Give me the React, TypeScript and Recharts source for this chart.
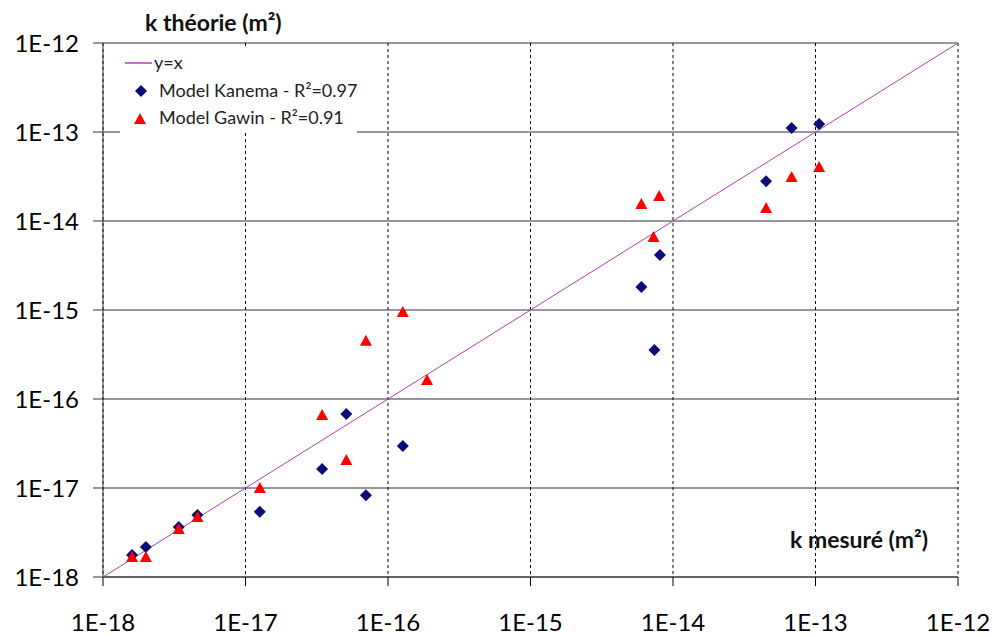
import { CartesianGrid, Scatter, ScatterChart, XAxis, YAxis } from "recharts"

// k measured (x) and k theory (y), m²
const kanemaMeasured = [1.6e-18, 2.0e-18, 3.4e-18, 4.6e-18, 1.26e-17, 3.45e-17, 5.1e-17, 7.0e-17, 1.27e-16, 6.0e-15, 7.4e-15, 8.1e-15, 4.5e-14, 6.8e-14, 1.06e-13]
const kanemaTheory = [1.77e-18, 2.17e-18, 3.65e-18, 4.98e-18, 5.4e-18, 1.63e-17, 6.8e-17, 8.3e-18, 2.96e-17, 1.81e-15, 3.56e-16, 4.15e-15, 2.8e-14, 1.11e-13, 1.23e-13]

const gawinMeasured = [1.6e-18, 2.0e-18, 3.4e-18, 4.6e-18, 1.26e-17, 3.45e-17, 5.1e-17, 7.0e-17, 1.27e-16, 1.88e-16, 6.0e-15, 7.3e-15, 8.0e-15, 4.5e-14, 6.8e-14, 1.06e-13]
const gawinTheory = [1.68e-18, 1.68e-18, 3.46e-18, 4.72e-18, 1.0e-17, 6.6e-17, 2.07e-17, 4.5e-16, 9.5e-16, 1.63e-16, 1.55e-14, 6.6e-15, 1.91e-14, 1.4e-14, 3.12e-14, 4.04e-14]

const identityLine = [1e-18, 1e-12]

const axisTicks = [1e-18, 1e-17, 1e-16, 1e-15, 1e-14, 1e-13, 1e-12]

const kanemaData = kanemaMeasured.map((x, i) => ({ x, y: kanemaTheory[i] }))
const gawinData = gawinMeasured.map((x, i) => ({ x, y: gawinTheory[i] }))
const lineData = identityLine.map((v) => ({ x: v, y: v }))

const NAVY = "#0c0c78"
const RED = "#ff0000"
const PURPLE = "#b040b0"
const FONT = "Lato, 'Open Sans', sans-serif"

const fmt = (v: number) => `1E${Math.round(Math.log10(v))}`

// eslint-disable-next-line @typescript-eslint/no-explicit-any
const Diamond = (props: any) => {
  const { cx, cy } = props
  const r = 6
  return <path d={`M${cx},${cy - r}L${cx + r},${cy}L${cx},${cy + r}L${cx - r},${cy}Z`} fill={NAVY} />
}

// eslint-disable-next-line @typescript-eslint/no-explicit-any
const Triangle = (props: any) => {
  const { cx, cy } = props
  return <path d={`M${cx},${cy - 6}L${cx + 6},${cy + 5}L${cx - 6},${cy + 5}Z`} fill={RED} />
}

const NoDot = () => <g />

function LegendBox() {
  const row = { position: "absolute" as const, left: 39, fontSize: 18, color: "#222", lineHeight: "22px", whiteSpace: "nowrap" as const }
  return (
    <div
      style={{
        position: "absolute",
        left: 120,
        top: 47,
        width: 237,
        height: 86,
        background: "#fff",
        fontFamily: FONT,
      }}
    >
      <svg width={40} height={86} style={{ position: "absolute", left: 0, top: 0 }}>
        <line x1={5} x2={32} y1={16} y2={16} stroke={PURPLE} strokeWidth={1.5} />
        <path d="M21,38L27,44L21,50L15,44Z" fill={NAVY} />
        <path d="M20,66L26,77L14,77Z" fill={RED} />
      </svg>
      <div style={{ ...row, left: 34, top: 4 }}>y=x</div>
      <div style={{ ...row, top: 32 }}>Model Kanema - R²=0.97</div>
      <div style={{ ...row, top: 59 }}>Model Gawin - R²=0.91</div>
    </div>
  )
}

export default function App() {
  const tick = { fontSize: 24, fill: "#000", fontFamily: FONT }
  const title = {
    position: "absolute" as const,
    fontFamily: FONT,
    fontWeight: 700,
    fontSize: 23,
    color: "#111",
    whiteSpace: "nowrap" as const,
  }
  return (
    <div style={{ position: "absolute", left: 0, top: 0, width: 992, height: 637, background: "#fff" }}>
      <ScatterChart width={992} height={637} margin={{ top: 43, right: 34, bottom: 0, left: 0 }}>
        <CartesianGrid vertical={false} stroke="#333" strokeWidth={1} />
        <CartesianGrid horizontal={false} stroke="#000" strokeDasharray="3 3" strokeWidth={1} />
        <XAxis
          type="number"
          dataKey="x"
          scale="log"
          domain={[1e-18, 1e-12]}
          ticks={axisTicks}
          tickFormatter={fmt}
          allowDataOverflow
          height={60}
          tickSize={9}
          tickMargin={28}
          tick={tick}
          axisLine={{ stroke: "#333" }}
          tickLine={{ stroke: "#000" }}
        />
        <YAxis
          type="number"
          dataKey="y"
          scale="log"
          domain={[1e-18, 1e-12]}
          ticks={axisTicks}
          tickFormatter={fmt}
          allowDataOverflow
          width={103}
          tickSize={10}
          tickMargin={14}
          tick={tick}
          axisLine={{ stroke: "#333" }}
          tickLine={{ stroke: "#333" }}
        />
        <Scatter
          name="y=x"
          data={lineData}
          line={{ stroke: PURPLE, strokeWidth: 1 }}
          shape={NoDot}
          isAnimationActive={false}
        />
        <Scatter name="Model Kanema - R²=0.97" data={kanemaData} shape={Diamond} isAnimationActive={false} />
        <Scatter name="Model Gawin - R²=0.91" data={gawinData} shape={Triangle} isAnimationActive={false} />
      </ScatterChart>
      <LegendBox />
      <div style={{ ...title, left: 145, top: 8 }}>k théorie (m²)</div>
      <div style={{ ...title, left: 790, top: 525 }}>k mesuré (m²)</div>
    </div>
  )
}
